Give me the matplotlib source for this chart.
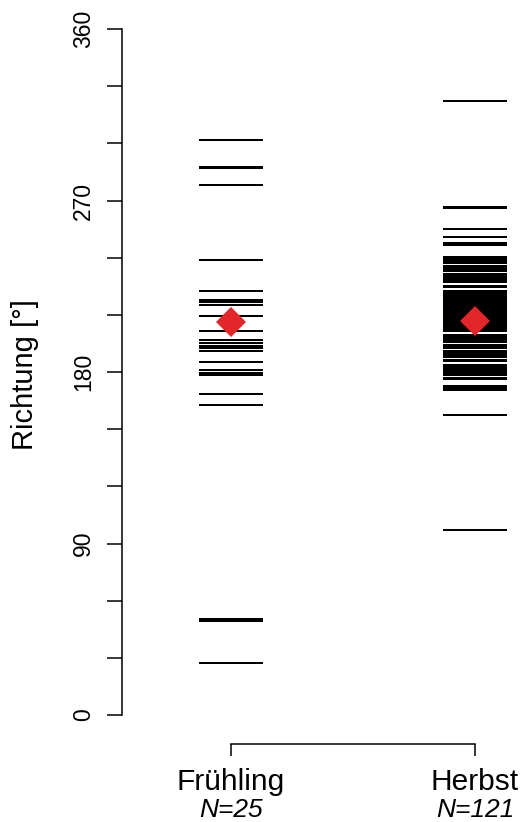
import matplotlib
matplotlib.use("Agg")
import matplotlib.pyplot as plt

plt.rcParams['font.family'] = ['Liberation Sans', 'DejaVu Sans']

categories = ["Frühling", "Herbst"]
n_labels = ["N=25", "N=121"]

fruehling = [301.7, 287.7, 287.0, 277.9, 238.6, 222.7, 217.8, 216.6, 215.4,
             209.6, 201.4, 196.9, 195.0, 193.8, 192.6, 190.9, 185.0, 180.8,
             179.6, 178.5, 168.6, 162.5, 50.3, 49.3, 27.3]

herbst = [322.0, 266.8, 266.0, 255.0, 251.0, 247.6, 246.8,
          240.2, 239.4, 238.0, 237.3,
          235.4, 234.6, 233.8, 233.1,
          231.3, 230.5, 229.7, 228.9, 228.1, 227.3, 227.0,
          225.3, 224.7,
          222.3, 221.6, 221.0, 220.3, 219.6, 219.0, 218.3, 217.6, 217.0, 216.3,
          215.6, 215.0, 214.3, 213.6, 213.0, 212.3, 211.6, 211.0, 210.3, 209.6,
          209.0, 208.3, 207.6, 207.0,
          205.5, 204.8, 204.1, 203.4, 202.7, 202.0, 201.3,
          199.4, 198.7, 198.0, 197.3, 196.6, 195.9,
          194.0, 193.3, 192.7,
          191.1, 190.4, 189.7, 189.0, 188.3, 187.9,
          186.2, 185.6,
          183.7, 183.0, 182.3, 181.6, 180.9, 180.2, 179.5, 178.6,
          176.9, 176.5,
          172.6, 171.9, 171.2, 170.4,
          157.6, 97.0,
          220.3, 218.3, 216.3, 214.3, 212.3, 210.3, 208.3, 213.0, 211.0, 209.0,
          217.0, 215.0, 219.0, 204.1, 202.0, 203.4, 198.0, 196.6, 197.3,
          190.4, 189.0, 182.3, 180.9, 179.5, 181.6, 229.7, 228.1, 233.8,
          193.3, 171.9, 186.2, 222.3, 239.4]

means = [206.5, 206.7]

groups = [fruehling, herbst]
positions = [1, 2]

W, H = 524, 822
fig = plt.figure(figsize=(W / 100, H / 100), dpi=100)
left_px, right_px, top_px, bottom_px = 122, 520, 29, 744
ax = fig.add_axes([left_px / W, (H - bottom_px) / H,
                   (right_px - left_px) / W, (bottom_px - top_px) / H])

half = 0.131
for pos, vals in zip(positions, groups):
    ax.hlines(vals, pos - half, pos + half, colors="black", linewidth=1.45,
              clip_on=False)

ax.plot(positions, means, linestyle="none", marker="D", markersize=15.5,
        color="#E3262A", markeredgewidth=0, clip_on=False, zorder=5)

ax.set_xlim(1 - 109 / 244, 2 + 45 / 244)
ax.set_ylim(-(744 - 715) / ((715 - 29) / 360), 360)

for s in ["top", "right"]:
    ax.spines[s].set_visible(False)
ax.spines["left"].set_bounds(0, 360)
ax.spines["bottom"].set_bounds(1, 2)
ax.spines["left"].set_linewidth(1.1)
ax.spines["bottom"].set_linewidth(1.1)

yt = list(range(0, 361, 30))
ax.set_yticks(yt)
ax.set_yticklabels([str(v) if v % 90 == 0 else "" for v in yt],
                   rotation=90, va="center", fontsize=16.5)
ax.tick_params(axis="y", length=10.5, width=1.1, pad=9)

ax.set_xticks(positions)
ax.set_xticklabels([])
ax.tick_params(axis="x", length=8.5, width=1.1)

tr = ax.get_xaxis_transform()
for pos, cat, nl in zip(positions, categories, n_labels):
    ax.text(pos, (bottom_px - 790) / (bottom_px - top_px), cat, transform=tr,
            ha="center", va="baseline", fontsize=21.5)
    ax.text(pos, (bottom_px - 817) / (bottom_px - top_px), nl, transform=tr,
            ha="center", va="baseline", fontsize=19, style="italic")

fig.text(25 / W, 1 - 375 / H, "Richtung [°]", rotation=90, ha="center",
         va="center", fontsize=21)

fig.savefig("out.png", dpi=100)
